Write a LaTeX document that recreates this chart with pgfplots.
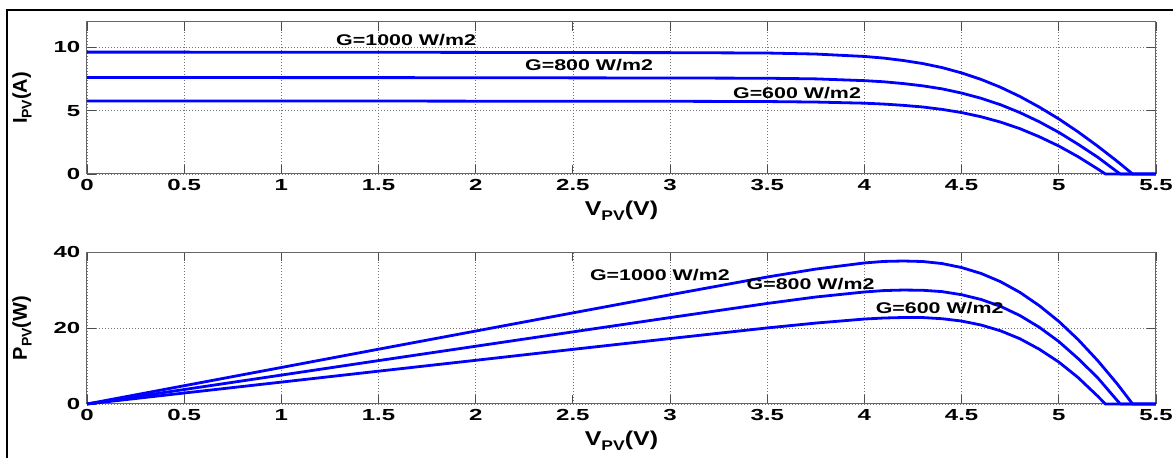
\documentclass[border=0pt]{standalone}
\usepackage{fontspec}
\setmainfont{Liberation Sans}
\usepackage{pgfplots}
\pgfplotsset{compat=1.18}
\usepackage{pgfplotstable}

\pgfplotstableread{
V I P
0 9.62 0
0.5 9.62 4.81
1 9.61 9.61
1.5 9.61 14.42
2 9.60 19.20
2.5 9.59 23.98
3 9.58 28.74
3.5 9.55 33.42
3.75 9.47 35.51
4.0 9.28 37.12
4.1 9.15 37.52
4.2 8.96 37.63
4.3 8.72 37.50
4.4 8.40 36.96
4.5 7.98 35.91
4.6 7.47 34.36
4.7 6.85 32.20
4.8 6.12 29.38
4.9 5.28 25.87
5.0 4.35 21.75
5.1 3.32 16.93
5.2 2.20 11.44
5.3 1.01 5.35
5.38 0 0
5.5 0 0
}\gthousand

\pgfplotstableread{
V I P
0 7.62 0
0.5 7.62 3.81
1 7.61 7.61
1.5 7.61 11.42
2 7.60 15.20
2.5 7.59 18.98
3 7.58 22.74
3.5 7.56 26.46
3.75 7.51 28.16
4.0 7.37 29.48
4.1 7.28 29.85
4.2 7.14 29.99
4.3 6.96 29.93
4.4 6.72 29.57
4.5 6.39 28.76
4.6 5.98 27.51
4.7 5.47 25.71
4.8 4.85 23.28
4.9 4.12 20.19
5.0 3.29 16.45
5.1 2.34 11.93
5.2 1.33 6.92
5.3 0.18 0.95
5.317 0 0
5.5 0 0
}\geight

\pgfplotstableread{
V I P
0 5.77 0
0.5 5.77 2.89
1 5.76 5.76
1.5 5.76 8.64
2 5.75 11.50
2.5 5.75 14.38
3 5.74 17.22
3.5 5.72 20.02
3.75 5.68 21.30
4.0 5.59 22.36
4.1 5.52 22.63
4.2 5.42 22.76
4.3 5.29 22.75
4.4 5.10 22.44
4.5 4.85 21.83
4.6 4.52 20.79
4.7 4.10 19.27
4.8 3.58 17.18
4.9 2.94 14.41
5.0 2.21 11.05
5.1 1.36 6.94
5.2 0.40 2.08
5.24 0 0
5.5 0 0
}\gsix

\newcommand{\tickfont}{\bfseries\fontsize{16}{16}\selectfont}
\newcommand{\annfont}{\bfseries\fontsize{15.5}{15.5}\selectfont}
\newcommand{\labfont}{\bfseries\fontsize{20}{20}\selectfont}
\newcommand{\subfont}{\bfseries\fontsize{14}{14}\selectfont}

\pgfplotsset{
  pvline/.style={blue, line width=2.8pt, line join=round, no markers},
  pvaxis/.style={
    scale only axis, width=1069pt, height=152pt,
    anchor=south west,
    xmin=0, xmax=5.5,
    xtick={0,0.5,1,1.5,2,2.5,3,3.5,4,4.5,5,5.5},
    xticklabels={0,0.5,1,1.5,2,2.5,3,3.5,4,4.5,5,5.5},
    tick align=inside, xtick pos=both, ytick pos=both,
    major tick length=9pt,
    grid=major,
    major grid style={black!55, line width=0.7pt, dash pattern=on 1pt off 2pt},
    axis line style={black!60, line width=1pt},
    tick style={black!70, line width=0.8pt},
    /pgf/number format/assume math mode=true,
    xticklabel style={font=\tickfont, xscale=1.5, yshift=-2pt},
    yticklabel style={font=\tickfont, xscale=1.5, xshift=-1pt},
    xlabel style={at={(rel axis cs:0.5,0)}, anchor=north, yshift=-27pt, inner sep=0pt, xscale=1.25},
    ylabel style={at={(rel axis cs:0,0.5)}, anchor=center, yshift=65pt, inner sep=0pt},
    clip=false,
  }
}

\begin{document}
\begin{tikzpicture}[x=1pt,y=1pt]
\useasboundingbox (0,0) rectangle (1173,458);
\draw[line width=2pt] (6.5,0) -- (6.5,448) -- (1173,448);

\begin{axis}[pvaxis, at={(87pt,284pt)},
  ymin=0, ymax=12, ytick={0,5,10},
  xlabel={\labfont V\raisebox{-0.45ex}{\subfont PV}(V)},
  ylabel={\labfont I\raisebox{-0.45ex}{\subfont PV}(A)}]
\addplot[pvline] table[x=V,y=I] {\gthousand};
\addplot[pvline] table[x=V,y=I] {\geight};
\addplot[pvline] table[x=V,y=I] {\gsix};
\node[anchor=west, inner sep=0pt, font=\annfont, xscale=1.38] at (axis cs:1.281,10.58) {G=1000 W/m2};
\node[anchor=west, inner sep=0pt, font=\annfont, xscale=1.38] at (axis cs:2.253,8.6) {G=800 W/m2};
\node[anchor=west, inner sep=0pt, font=\annfont, xscale=1.38] at (axis cs:3.323,6.39) {G=600 W/m2};
\end{axis}

\begin{axis}[pvaxis, at={(87pt,54pt)},
  ymin=0, ymax=40, ytick={0,20,40},
  xlabel={\labfont V\raisebox{-0.45ex}{\subfont PV}(V)},
  ylabel={\labfont P\raisebox{-0.45ex}{\subfont PV}(W)}]
\addplot[pvline] table[x=V,y=P] {\gthousand};
\addplot[pvline] table[x=V,y=P] {\geight};
\addplot[pvline] table[x=V,y=P] {\gsix};
\node[anchor=west, inner sep=0pt, font=\annfont, xscale=1.38] at (axis cs:2.587,33.9) {G=1000 W/m2};
\node[anchor=west, inner sep=0pt, font=\annfont, xscale=1.38] at (axis cs:3.393,31.5) {G=800 W/m2};
\node[anchor=west, inner sep=0pt, font=\annfont, xscale=1.38] at (axis cs:4.057,25.3) {G=600 W/m2};
\end{axis}
\end{tikzpicture}
\end{document}
